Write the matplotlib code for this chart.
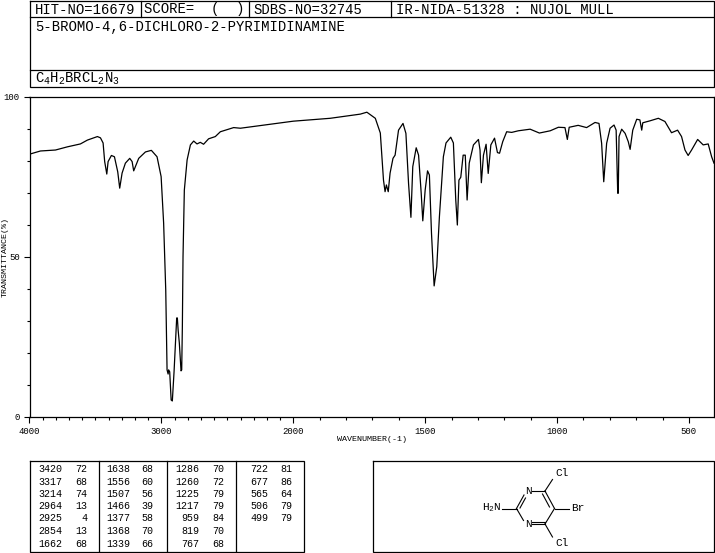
import numpy as np
import matplotlib
matplotlib.use('Agg')
import matplotlib.pyplot as plt

# spectrum
wavenumber = [4000, 3917, 3803, 3712, 3614, 3561, 3485, 3462, 3442, 3430, 3414, 3404, 3379, 3356, 3331, 3316,
              3298, 3273, 3240, 3222, 3210, 3172, 3121, 3076, 3033, 3002, 2983, 2967, 2957, 2949, 2945, 2937,
              2926, 2917, 2904, 2892, 2884, 2879, 2873, 2864, 2851, 2846, 2841, 2836, 2826, 2805, 2780, 2755,
              2730, 2705, 2680, 2642, 2591, 2553, 2452, 2401, 2000, 1860, 1746, 1721, 1689, 1670, 1658, 1652,
              1647, 1640, 1633, 1622, 1614, 1601, 1584, 1573, 1563, 1554, 1547, 1534, 1525, 1515, 1509, 1500,
              1491, 1484, 1476, 1466, 1456, 1446, 1431, 1421, 1403, 1393, 1384, 1378, 1372, 1365, 1356, 1348,
              1341, 1333, 1317, 1298, 1292, 1287, 1279, 1269, 1261, 1251, 1237, 1226, 1218, 1206, 1191, 1172,
              1147, 1102, 1067, 1026, 995, 970, 961, 954, 920, 888, 856, 841, 831, 823, 812, 799,
              784, 776, 770, 768, 765, 755, 742, 730, 723, 713, 698, 686, 679, 675, 648, 616,
              591, 566, 543, 528, 515, 503, 490, 467, 446, 427, 414, 405]
transmittance = [82.0, 83.0, 83.3, 84.3, 85.2, 86.4, 87.5, 87.1, 85.5, 79.7, 75.8, 79.7, 81.6, 81.2, 76.5, 71.4,
                 76.1, 79.2, 80.7, 79.7, 76.8, 80.7, 82.7, 83.2, 81.2, 75.0, 60.5, 39.6, 14.7, 13.4, 14.7, 14.1,
                 5.3, 5.0, 14.1, 24.0, 30.9, 30.9, 27.1, 23.1, 14.4, 14.7, 28.2, 50.0, 70.8, 80.2, 84.9, 86.1,
                 85.2, 85.7, 85.1, 86.8, 87.5, 89.0, 90.3, 90.1, 92.3, 93.2, 94.5, 95.1, 93.2, 88.6, 73.9, 70.3,
                 72.4, 70.3, 76.1, 80.7, 81.7, 89.5, 91.6, 88.5, 72.9, 62.3, 78.1, 84.0, 81.7, 69.8, 61.2, 70.8,
                 76.8, 75.5, 57.3, 40.9, 46.9, 62.5, 81.2, 85.5, 87.3, 85.5, 67.7, 59.9, 73.9, 74.8, 81.7, 81.7,
                 67.7, 79.2, 84.9, 86.6, 83.3, 73.1, 81.7, 85.1, 76.0, 84.9, 87.0, 82.5, 82.3, 85.9, 89.0, 88.8,
                 89.3, 89.8, 88.6, 89.3, 90.4, 90.3, 86.6, 90.4, 91.0, 90.3, 91.9, 91.6, 85.4, 73.4, 85.4, 90.1,
                 91.1, 89.5, 69.8, 69.8, 87.5, 89.8, 88.5, 85.9, 83.5, 89.5, 92.9, 92.7, 89.5, 91.8, 92.4, 93.2,
                 92.2, 88.7, 89.5, 87.5, 83.3, 81.6, 83.3, 86.6, 84.9, 85.2, 81.2, 79.2]

x_major = [4000, 3000, 2000, 1500, 1000, 500]
x_minor = list(range(3900, 2000, -100)) + list(range(1900, 400, -100))
y_major = [0, 50, 100]
y_minor = [10, 20, 30, 40, 60, 70, 80, 90]

header_cells = ['HIT-NO=16679', 'SCORE=  (  )', 'SDBS-NO=32745', 'IR-NIDA-51328 : NUJOL MULL']
compound = '5-BROMO-4,6-DICHLORO-2-PYRIMIDINAMINE'
formula = r'$\mathrm{C_4H_2BRCL_2N_3}$'

peak_wn = [[3420, 3317, 3214, 2964, 2925, 2854, 1662],
           [1638, 1556, 1507, 1466, 1377, 1368, 1339],
           [1286, 1260, 1225, 1217, 959, 819, 767],
           [722, 677, 565, 506, 499]]
peak_t = [[72, 68, 74, 13, 4, 13, 68],
          [68, 60, 56, 39, 58, 70, 66],
          [70, 72, 79, 79, 84, 70, 68],
          [81, 86, 64, 79, 79]]

# structure drawing, in page pixels
bonds = [((531.5, 491), (545, 491)), ((545, 491), (554.5, 508.5)), ((542.5, 494), (549.5, 507)),
         ((554.5, 508.5), (545, 524)), ((545, 524), (531.5, 524)), ((545, 521.5), (532, 521.5)),
         ((523.5, 520.5), (516.5, 508.5)), ((516.5, 508.5), (524, 495)), ((520, 508), (525.5, 498)),
         ((545, 491), (552.5, 479.5)), ((554.5, 508.5), (569, 508.5)), ((545, 524), (552.5, 537)),
         ((501.5, 508.5), (516.5, 508.5))]
atoms = [(528.5, 491, 'N'), (528.5, 524, 'N'), (561.5, 472.5, 'Cl'), (561.5, 543.5, 'Cl'), (578, 508, 'Br')]

plt.rcParams['font.family'] = 'Liberation Mono'
plt.rcParams['mathtext.fontset'] = 'custom'
plt.rcParams['mathtext.rm'] = 'Liberation Mono'

W, H = 715, 553
fig = plt.figure(figsize=(W / 100, H / 100), dpi=100)

# page overlay for the boxes and the text around the plot
page = fig.add_axes([0, 0, 1, 1])
page.set_xlim(0, W)
page.set_ylim(H, 0)
page.axis('off')

def box(x0, y0, x1, y1):
    page.plot([x0, x1, x1, x0, x0], [y0, y0, y1, y1, y0], color='k', lw=0.9, solid_joinstyle='miter')

box(29.5, 0.5, 714, 87)
for y in [17, 69.5]:
    page.plot([29.5, 714], [y, y], color='k', lw=0.9)
for x in [140.5, 248.5, 391]:
    page.plot([x, x], [0.5, 17], color='k', lw=0.9)

for x, s in zip([35, 144, 253, 396], header_cells):
    page.text(x, 13.5, s, fontsize=10, ha='left', va='baseline')
page.text(35, 31, compound, fontsize=10, ha='left', va='baseline')
page.text(35, 83, formula, fontsize=10, ha='left', va='baseline')

# peak table
box(29.5, 460.5, 303.5, 552)
for x in [98.5, 166.5, 235.5]:
    page.plot([x, x], [460.5, 552], color='k', lw=0.9)
row_y = [469.5, 481.7, 494, 506, 518.3, 531.5, 544]
col_a = [62, 130, 199, 268]
col_b = [87, 153, 224, 292]
for c in range(4):
    for r in range(len(peak_wn[c])):
        page.text(col_a[c], row_y[r], str(peak_wn[c][r]), fontsize=7.2, ha='right', va='center')
        page.text(col_b[c], row_y[r], str(peak_t[c][r]), fontsize=7.2, ha='right', va='center')

# structure
box(372.5, 460.5, 714, 552)
for a, b in bonds:
    page.plot([a[0], b[0]], [a[1], b[1]], color='k', lw=0.8)
for x, y, s in atoms:
    page.text(x, y, s, fontsize=8, ha='center', va='center')
page.text(501.5, 508, r'$\mathrm{H_2N}$', fontsize=8, ha='right', va='center')

# the spectrum, x scale doubles below 2000
def forward(v):
    v = np.asarray(v, dtype=float)
    return np.where(v >= 2000, v, 2000 - (2000 - v) * 2)

def inverse(u):
    u = np.asarray(u, dtype=float)
    return np.where(u >= 2000, u, 2000 - (2000 - u) / 2)

ax = fig.add_axes([29.5 / W, 1 - 417 / H, 684.5 / W, 320.5 / H])
ax.patch.set_alpha(0)
ax.set_xscale('function', functions=(forward, inverse))
ax.set_xlim(4000, 405)
ax.set_ylim(0, 100)
ax.plot(wavenumber, transmittance, color='k', lw=0.9)

for s in ax.spines.values():
    s.set_linewidth(0.9)
ax.set_xticks(x_major)
ax.set_xticks(x_minor, minor=True)
ax.set_yticks(y_major)
ax.set_yticks(y_minor, minor=True)
ax.tick_params(which='major', length=4.5, width=0.8, labelsize=6.5, pad=2.5)
ax.tick_params(which='minor', length=2, width=0.8)
ax.set_xlabel('WAVENUMBER(-1)', fontsize=6, labelpad=1.5)
ax.xaxis.set_label_coords(0.5, -0.058)
ax.set_ylabel('TRANSMITTANCE(%)', fontsize=6)
ax.yaxis.set_label_coords(-0.031, 0.5)

fig.savefig('out.png', dpi=100)
